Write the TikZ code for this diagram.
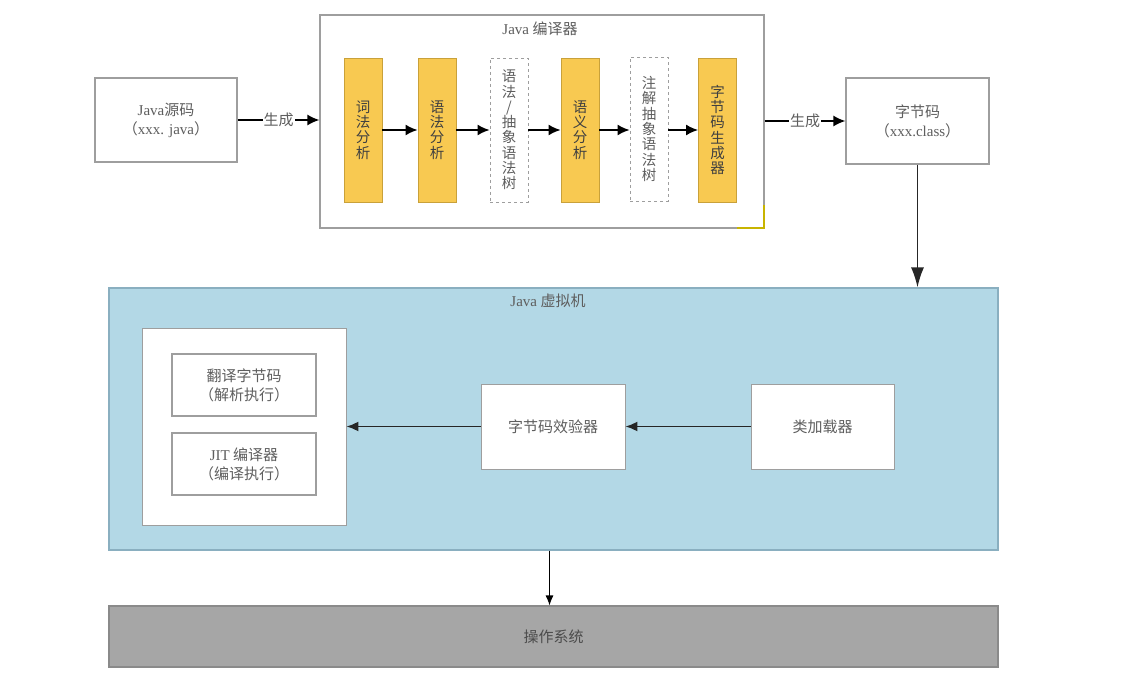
\documentclass[tikz,border=0pt]{standalone}
\usepackage{fontspec}
\setmainfont{Noto Sans CJK SC}
\newfontfamily\lat{Liberation Serif}
\usetikzlibrary{arrows.meta,calc}
\definecolor{barfill}{HTML}{F8C951}
\definecolor{barline}{HTML}{C9A13A}
\definecolor{jvmfill}{HTML}{B3D8E6}
\definecolor{jvmline}{HTML}{8AAFC0}
\definecolor{osfill}{HTML}{A6A6A6}
\definecolor{osline}{HTML}{8A8A8A}
\definecolor{boxline}{HTML}{9E9E9E}
\definecolor{txt}{HTML}{5E5E5E}
\definecolor{corner}{HTML}{C8B400}
\tikzset{
  base/.style={rectangle, inner sep=0pt, align=center, text=txt,
    font=\fontsize{15}{19}\selectfont},
  plainbox/.style={base, draw=boxline, line width=1.1pt, fill=white},
  bar/.style={base, draw=barline, line width=0.8pt, fill=barfill,
    minimum width=38pt, minimum height=144pt, text=black!75,
    font=\fontsize{14.5}{15.3}\selectfont},
  dbar/.style={base, draw=boxline, line width=0.8pt, dashed, fill=white,
    minimum width=38pt, minimum height=144pt,
    font=\fontsize{14.5}{15.3}\selectfont},
  arr/.style={line width=1.8pt, black, -{Latex[length=12pt,width=11pt]}},
  bigarr/.style={line width=1.8pt, black!85, -{Latex[length=20pt,width=13pt]}},
  midarr/.style={line width=1.8pt, black!85, -{Latex[length=12pt,width=10pt]}},
  thinarr/.style={line width=1.1pt, black, -{Latex[length=10pt,width=8pt]}},
  lbl/.style={base, fill=white, inner sep=1pt},
}
\begin{document}
\begin{tikzpicture}[x=1pt,y=-1pt]
\useasboundingbox[fill=white] (0,0) rectangle (1130,676);

% top row
\node[plainbox, minimum width=142pt, minimum height=84pt] (src) at (166,120)
  {{\lat Java}源码\\（{\lat xxx. java}）};
\node[plainbox, minimum width=444pt, minimum height=213pt] (comp) at (542,121.5) {};
\node[base] (comptitle) at (540,29) {{\lat Java} 编译器};
\draw[corner, line width=2pt] (737,228) -- (764,228) -- (764,205);

\node[bar] (b1) at (363,130) {词\\法\\分\\析};
\node[bar] (b2) at (437,130) {语\\法\\分\\析};
\node[dbar] (b3) at (509,130) {语\\法\\/\\抽\\象\\语\\法\\树};
\node[bar] (b4) at (580,130) {语\\义\\分\\析};
\node[dbar] (b5) at (649,129) {注\\解\\抽\\象\\语\\法\\树};
\node[bar] (b6) at (717.5,130) {字\\节\\码\\生\\成\\器};

\draw[arr] (b1.east) -- (b2.west);
\draw[arr] (b2.east) -- (b3.west);
\draw[arr] (b3.east) -- (b4.west);
\draw[arr] (b4.east) -- (b5.west |- b4.east);
\draw[arr] (b5.east |- b6.west) -- (b6.west);

\node[plainbox, minimum width=143pt, minimum height=86pt] (bc) at (917.5,121)
  {字节码\\（{\lat xxx.class}）};

\draw[arr] (src.east) -- node[lbl] (g1) {生成} (src.east -| comp.west);
\draw[arr] (comp.east |- bc.west) -- node[lbl] (g2) {生成} (bc.west);

% JVM
\node[base, draw=jvmline, line width=1.1pt, fill=jvmfill,
  minimum width=889pt, minimum height=262pt] (jvm) at (553.5,419) {};
\node[base] (jvmtitle) at (548,301) {{\lat Java} 虚拟机};
\draw[bigarr] (bc.south) -- (bc.south |- jvm.north);

\node[plainbox, line width=0.8pt, minimum width=204pt, minimum height=197pt] (exec) at (244,426.5) {};
\node[plainbox, minimum width=144pt, minimum height=62pt] (interp) at (244,385)
  {翻译字节码\\（解析执行）};
\node[plainbox, minimum width=144pt, minimum height=62pt] (jit) at (244,464)
  {{\lat JIT} 编译器\\（编译执行）};
\node[plainbox, line width=0.8pt, minimum width=144pt, minimum height=85pt] (ver) at (553,426.5) {字节码效验器};
\node[plainbox, line width=0.8pt, minimum width=143pt, minimum height=85pt] (load) at (822.5,426.5) {类加载器};

\draw[midarr] (load.west) -- (ver.east);
\draw[midarr] (ver.west) -- (exec.east);

% OS
\node[base, draw=osline, line width=1.1pt, fill=osfill, text=black!70,
  minimum width=889pt, minimum height=61pt] (os) at (553.5,636.5) {操作系统};
\draw[thinarr] ($(jvm.south)+(-4,0)$) -- ($(os.north)+(-4,0)$);
\end{tikzpicture}
\end{document}
